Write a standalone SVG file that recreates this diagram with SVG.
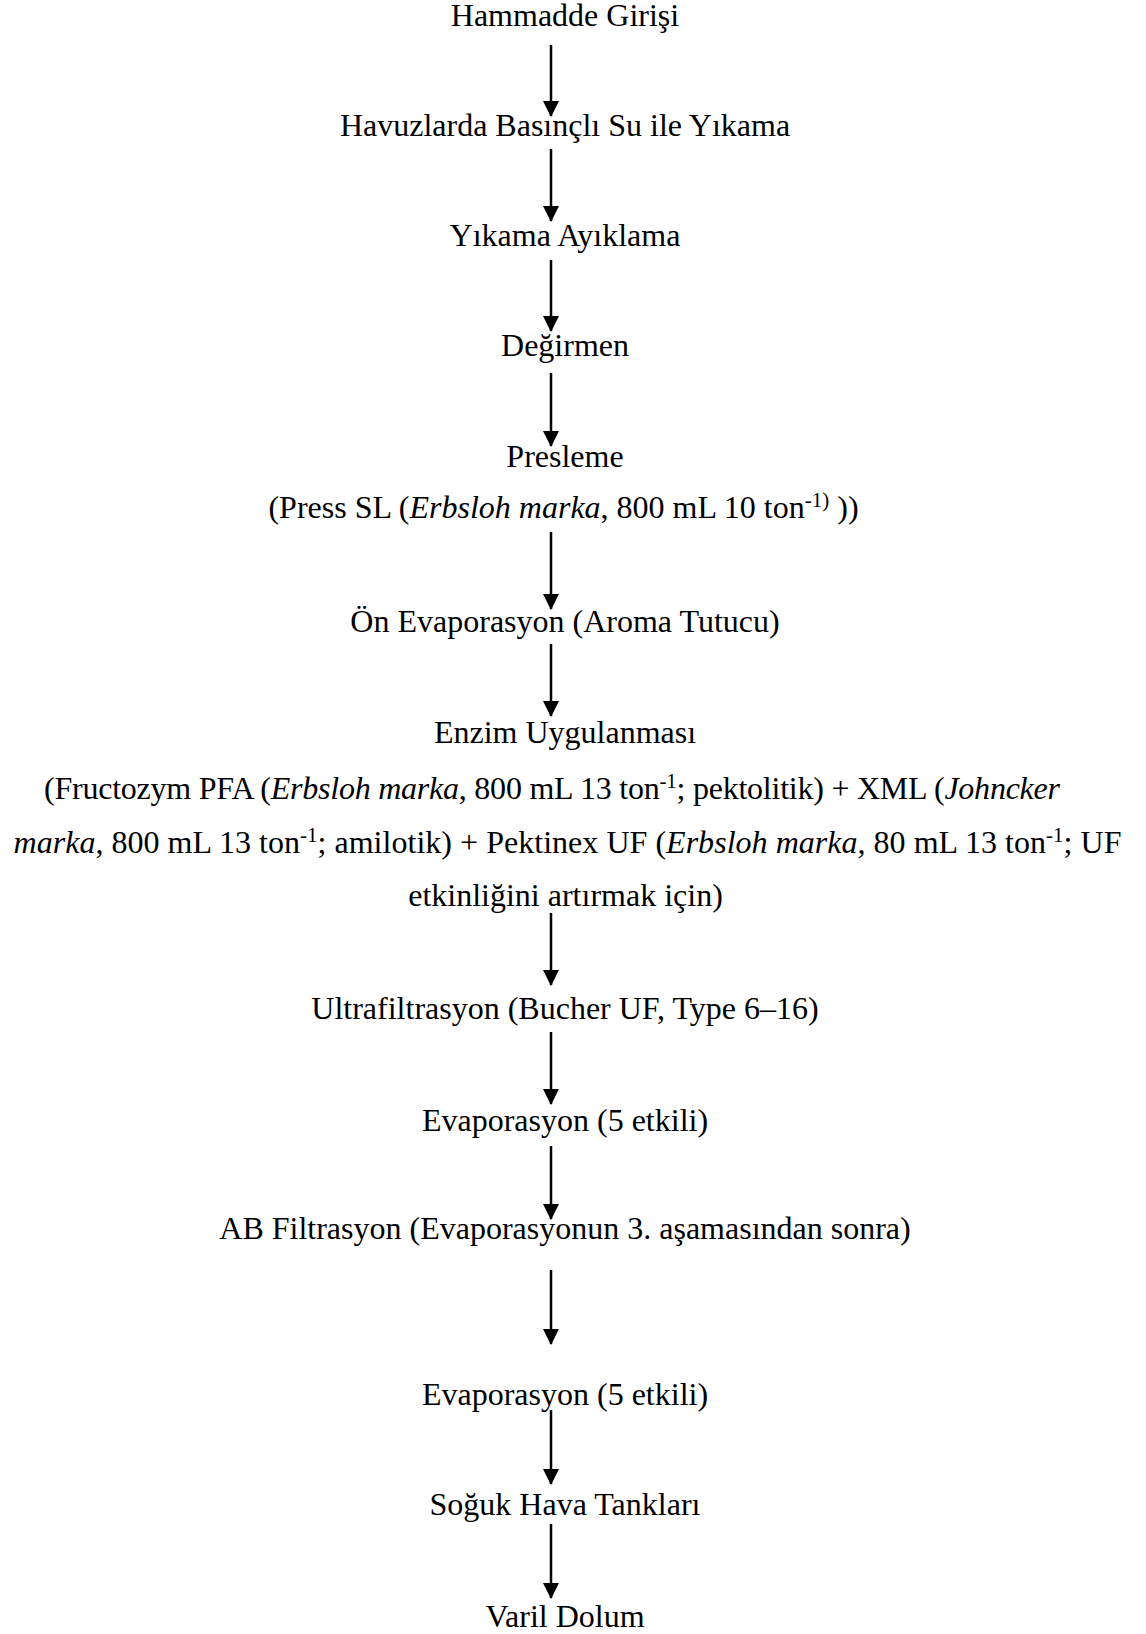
<svg xmlns="http://www.w3.org/2000/svg" width="1146" height="1634" viewBox="0 0 1146 1634">
<style>
  text { font-family: "Liberation Serif", "Times New Roman", serif; font-size: 32px; fill: #000; }
  .c { text-anchor: middle; }
  .i { font-style: italic; }
  .sup { font-size: 21px; }
  .conn line { stroke: #000; stroke-width: 2.5; }
</style>
<defs>
  <marker id="ah" markerUnits="userSpaceOnUse" markerWidth="16" markerHeight="16" viewBox="0 0 16 16" refX="15" refY="8" orient="auto">
    <path d="M0,0 L16,8 L0,16 Z" fill="#000"/>
  </marker>
</defs>
<rect width="1146" height="1634" fill="#fff"/>
<g id="connectors" class="conn">
  <line x1="551" y1="45" x2="551" y2="116" marker-end="url(#ah)"/>
  <line x1="551" y1="149" x2="551" y2="221" marker-end="url(#ah)"/>
  <line x1="551" y1="260" x2="551" y2="331" marker-end="url(#ah)"/>
  <line x1="551" y1="373" x2="551" y2="446" marker-end="url(#ah)"/>
  <line x1="551" y1="532" x2="551" y2="609" marker-end="url(#ah)"/>
  <line x1="551" y1="644" x2="551" y2="716" marker-end="url(#ah)"/>
  <line x1="551" y1="913" x2="551" y2="985" marker-end="url(#ah)"/>
  <line x1="551" y1="1032" x2="551" y2="1104" marker-end="url(#ah)"/>
  <line x1="551" y1="1146" x2="551" y2="1219" marker-end="url(#ah)"/>
  <line x1="551" y1="1270" x2="551" y2="1344" marker-end="url(#ah)"/>
  <line x1="551" y1="1410" x2="551" y2="1484" marker-end="url(#ah)"/>
  <line x1="551" y1="1524" x2="551" y2="1598" marker-end="url(#ah)"/>
</g>
<g id="n1"><text class="c" x="565" y="26">Hammadde Girişi</text></g>
<g id="n2"><text class="c" x="565" y="136">Havuzlarda Basınçlı Su ile Yıkama</text></g>
<g id="n3"><text class="c" x="565" y="246">Yıkama Ayıklama</text></g>
<g id="n4"><text class="c" x="565" y="356">Değirmen</text></g>
<g id="n5">
  <text class="c" x="565" y="467">Presleme</text>
  <text class="c" x="563.5" y="518">(Press SL (<tspan class="i">Erbsloh marka</tspan>, 800 mL 10 ton<tspan class="sup" dy="-11">-1)</tspan><tspan dy="11"> ))</tspan></text>
</g>
<g id="n6"><text class="c" x="565" y="632">Ön Evaporasyon (Aroma Tutucu)</text></g>
<g id="n7">
  <text class="c" x="565" y="743">Enzim Uygulanması</text>
  <text x="44" y="799" textLength="1016" lengthAdjust="spacing">(Fructozym PFA (<tspan class="i">Erbsloh marka</tspan>, 800 mL 13 ton<tspan class="sup" dy="-11">-1</tspan><tspan dy="11">; pektolitik) + XML (</tspan><tspan class="i">Johncker</tspan></text>
  <text x="13.5" y="853" textLength="1108" lengthAdjust="spacing"><tspan class="i">marka</tspan>, 800 mL 13 ton<tspan class="sup" dy="-11">-1</tspan><tspan dy="11">; amilotik) + Pektinex UF (</tspan><tspan class="i">Erbsloh marka</tspan>, 80 mL 13 ton<tspan class="sup" dy="-11">-1</tspan><tspan dy="11">; UF</tspan></text>
  <text class="c" x="565.5" y="906">etkinliğini artırmak için)</text>
</g>
<g id="n8"><text class="c" x="565" y="1019">Ultrafiltrasyon (Bucher UF, Type 6–16)</text></g>
<g id="n9"><text class="c" x="565" y="1131">Evaporasyon (5 etkili)</text></g>
<g id="n10"><text class="c" x="565" y="1239">AB Filtrasyon (Evaporasyonun 3. aşamasından sonra)</text></g>
<g id="n11"><text class="c" x="565" y="1405">Evaporasyon (5 etkili)</text></g>
<g id="n12"><text class="c" x="565" y="1515">Soğuk Hava Tankları</text></g>
<g id="n13"><text class="c" x="565" y="1627">Varil Dolum</text></g>
</svg>
